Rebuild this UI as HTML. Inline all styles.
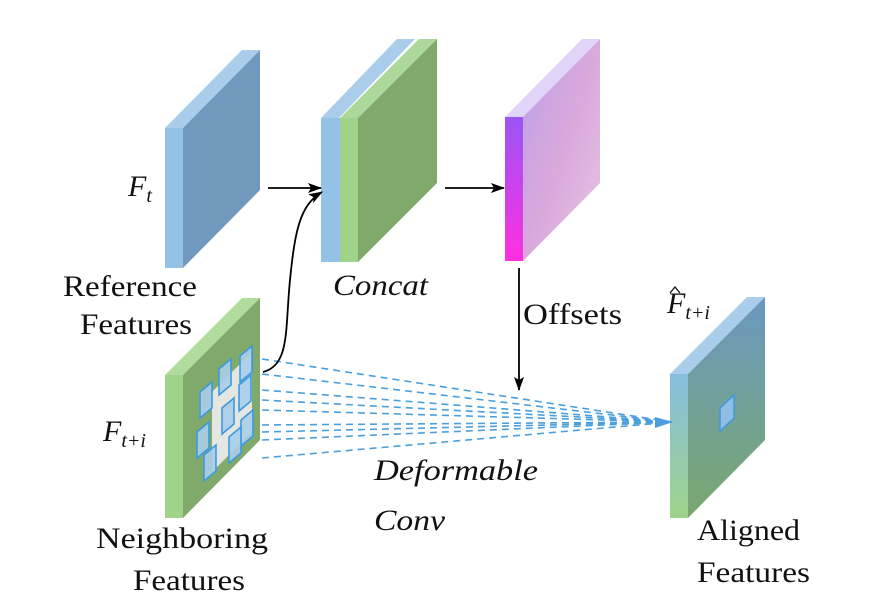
<!DOCTYPE html>
<html><head><style>body{margin:0;background:#fff}svg{display:block}</style></head>
<body>
<svg width="870" height="616" viewBox="0 0 870 616" xmlns="http://www.w3.org/2000/svg" font-family="Liberation Serif, serif">
<defs>
<marker id="ah" markerWidth="14" markerHeight="10" refX="13" refY="5" orient="auto" markerUnits="userSpaceOnUse"><path d="M0,0 L14,5 L0,10 L3,5 Z" fill="#000"/></marker>
<linearGradient id="off" x1="0" y1="0" x2="0" y2="1"><stop offset="0" stop-color="#9a55f5"/><stop offset="1" stop-color="#ff2fe0"/></linearGradient>
<linearGradient id="offb" x1="0" y1="0" x2="1" y2="1"><stop offset="0" stop-color="#b9a0e8"/><stop offset="0.5" stop-color="#d9a8dc"/><stop offset="1" stop-color="#e6c6e3"/></linearGradient>
<linearGradient id="alf" x1="0" y1="0" x2="0" y2="1"><stop offset="0" stop-color="#85bde0"/><stop offset="1" stop-color="#9fd38a"/></linearGradient>
<linearGradient id="alb" x1="0" y1="0" x2="0" y2="1"><stop offset="0" stop-color="#6b98c0"/><stop offset="1" stop-color="#79a86e"/></linearGradient>
</defs>

<!-- Reference block -->
<polygon points="165,128 183,128 260,50 242,50" fill="#a9cdea"/>
<polygon points="183,128 260,50 260,190 183,268" fill="#7199bd"/>
<rect x="165" y="128" width="18" height="140" fill="#93c2e6"/>

<!-- Concat -->
<polygon points="321,118 339,118 415,39 397,39" fill="#a9cdea"/>
<rect x="321" y="118" width="19" height="144" fill="#93c2e6"/>
<polygon points="340,118 358,118 437,39 419,39" fill="#acd89a"/>
<polygon points="358,118 437,39 437,183 358,262" fill="#80a96b"/>
<rect x="340" y="118" width="18" height="144" fill="#9fd38a"/>

<!-- Offsets block -->
<polygon points="505,117 523,117 600,39 582,39" fill="#e0d4f8"/>
<polygon points="523,117 600,39 600,183 523,261" fill="url(#offb)"/>
<rect x="505" y="117" width="18" height="144" fill="url(#off)"/>

<!-- Neighbor block -->
<polygon points="165,375 183,375 260,298 242,298" fill="#b0dc9c"/>
<polygon points="183,375 260,298 260,440 183,518" fill="#80a96b"/>
<rect x="165" y="375" width="18" height="143" fill="#9fd38a"/>
<polygon points="212,392 252,352 252,432 212,472" fill="#e4e6e2"/>
<g fill="#a7cde9" fill-opacity="0.9" stroke="#3d9ae0" stroke-width="1.6">
<polygon points="240,356 252,346 252,372 240,382"/>
<polygon points="219,369 231,359 231,385 219,395"/>
<polygon points="200,392 212,382 212,408 200,418"/>
<polygon points="239,385 251,375 251,401 239,411"/>
<polygon points="222,408 234,398 234,424 222,434"/>
<polygon points="241,420 253,410 253,436 241,446"/>
<polygon points="197,432 209,422 209,448 197,458"/>
<polygon points="229,437 241,427 241,453 229,463"/>
<polygon points="204,455 216,445 216,471 204,481"/>
</g>

<!-- Aligned block -->
<polygon points="670,374 688,374 765,297 747,297" fill="#a9cdea"/>
<polygon points="688,374 765,297 765,440 688,518" fill="url(#alb)"/>
<rect x="670" y="374" width="18" height="144" fill="url(#alf)"/>
<polygon points="720,408 734,395 734,418 720,431" fill="#8fbde3" stroke="#3d9ae0" stroke-width="1.5"/>

<!-- dashed lines -->
<g stroke="#4a9fdc" stroke-width="1.6" stroke-dasharray="7,5" fill="none">
<line x1="262" y1="359" x2="672" y2="422"/>
<line x1="262" y1="374" x2="672" y2="422"/>
<line x1="262" y1="390" x2="672" y2="422"/>
<line x1="262" y1="400" x2="672" y2="422"/>
<line x1="262" y1="410" x2="672" y2="422"/>
<line x1="262" y1="425" x2="672" y2="422"/>
<line x1="262" y1="432" x2="672" y2="422"/>
<line x1="262" y1="440" x2="672" y2="422"/>
<line x1="262" y1="458" x2="672" y2="422"/>
</g>
<path d="M655,417 L673,422 L655,428 Z" fill="#4a9fdc"/>

<!-- arrows -->
<line x1="268" y1="188" x2="321" y2="188" stroke="#000" stroke-width="1.8" marker-end="url(#ah)"/>
<line x1="445" y1="188" x2="504" y2="188" stroke="#000" stroke-width="1.8" marker-end="url(#ah)"/>
<line x1="519" y1="268" x2="519" y2="390" stroke="#000" stroke-width="1.8" marker-end="url(#ah)"/>
<path d="M263,372 C290,365 285,330 290,280 C295,230 300,205 322,192" stroke="#000" stroke-width="1.8" fill="none" marker-end="url(#ah)"/>

<!-- labels -->
<g font-size="30" fill="#111">
<text x="63" y="296" textLength="134" lengthAdjust="spacingAndGlyphs">Reference</text>
<text x="80" y="334" textLength="112" lengthAdjust="spacingAndGlyphs">Features</text>
<text x="523" y="324" textLength="99" lengthAdjust="spacingAndGlyphs">Offsets</text>
<text x="96" y="548" textLength="172" lengthAdjust="spacingAndGlyphs">Neighboring</text>
<text x="133" y="590" textLength="112" lengthAdjust="spacingAndGlyphs">Features</text>
<text x="697" y="540" textLength="103" lengthAdjust="spacingAndGlyphs">Aligned</text>
<text x="697" y="582" textLength="113" lengthAdjust="spacingAndGlyphs">Features</text>
<g font-style="italic">
<text x="333" y="295" textLength="95" lengthAdjust="spacingAndGlyphs">Concat</text>
<text x="374" y="480" textLength="164" lengthAdjust="spacingAndGlyphs">Deformable</text>
<text x="374" y="530" textLength="71" lengthAdjust="spacingAndGlyphs">Conv</text>
<text x="128" y="196">F<tspan font-size="20" dy="6">t</tspan></text>
<text x="103" y="441">F<tspan font-size="20" dy="6">t+i</tspan></text>
<text x="667" y="313">F<tspan font-size="20" dy="6">t+i</tspan></text>
</g>
</g>
<path d="M670,293 L675,287 L680,293" stroke="#111" stroke-width="1.3" fill="none"/>
</svg>
</body></html>
